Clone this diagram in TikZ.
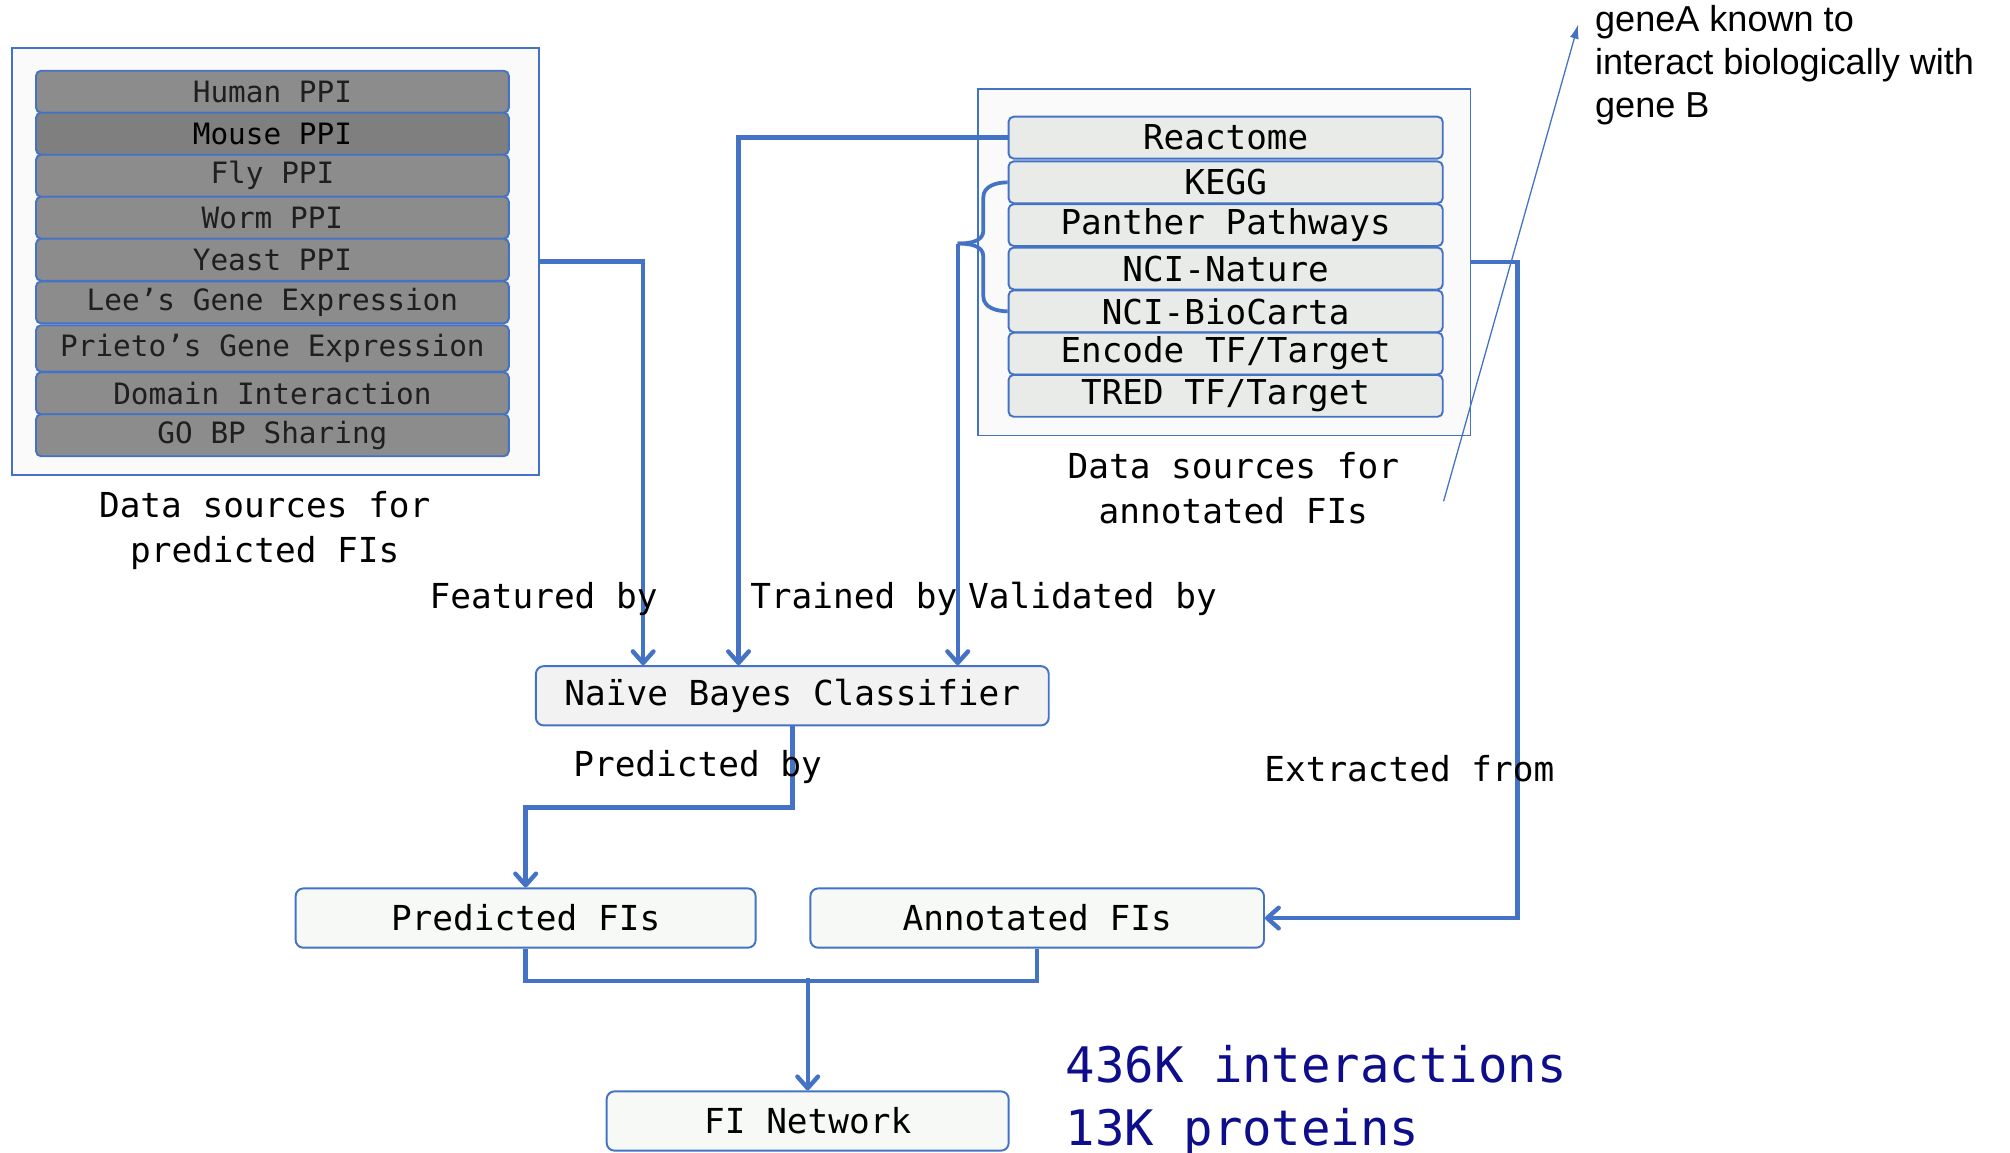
\documentclass[tikz,border=0pt]{standalone}
\usepackage{fontspec}
\setmainfont{Liberation Sans}
\setmonofont{DejaVu Sans Mono}
\usetikzlibrary{arrows.meta,calc}
\definecolor{bl}{HTML}{4472C4}
\definecolor{rowgray}{HTML}{8C8C8C}
\definecolor{rowdark}{HTML}{7F7F7F}
\definecolor{rowlight}{HTML}{E9EBE8}
\definecolor{outerfill}{HTML}{FAFAFA}
\definecolor{nbfill}{HTML}{F2F2F2}
\definecolor{fifill}{HTML}{F7F9F6}
\definecolor{bignum}{RGB}{14,14,140}
\tikzset{
  outerbox/.style={draw=bl, line width=1.5pt, fill=outerfill, inner sep=0pt},
  lrow/.style={draw=bl, line width=1.5pt, rounded corners=4pt, fill=rowgray, minimum width=367pt,
    minimum height=32.6pt, inner sep=0pt, text=black!88, font=\ttfamily\fontsize{22.8}{26}\selectfont},
  rrow/.style={draw=bl, line width=1.5pt, rounded corners=4pt, fill=rowlight, minimum width=337pt,
    minimum height=32.5pt, inner sep=0pt, font=\ttfamily\fontsize{26.6}{30}\selectfont},
  flowbox/.style={draw=bl, line width=1.5pt, rounded corners=6pt, minimum height=46pt, inner sep=0pt,
    font=\ttfamily\fontsize{26.7}{30}\selectfont},
  conn/.style={draw=bl, line width=3.4pt},
  bracestyle/.style={draw=bl, line width=2.9pt},
  arr/.style={-{Straight Barb[length=9pt,width=16pt,round]}},
  lbl/.style={font=\ttfamily\fontsize{26.7}{35}\selectfont, inner sep=0pt},
}
\begin{document}
\begin{tikzpicture}[x=0.995pt,y=-1pt]
\useasboundingbox[fill=white] (0,0) rectangle (1567.8,894.8);

% left group
\node[outerbox, minimum width=408.5pt, minimum height=332pt] (leftbox) at (215,203) {};
\node[lrow] (human) at (212.5,71.2) {Human PPI};
\node[lrow, fill=rowdark, text=black] (mouse) at (212.5,103.8) {Mouse PPI};
\node[lrow] (fly) at (212.5,136.4) {Fly PPI};
\node[lrow] (worm) at (212.5,169) {Worm PPI};
\node[lrow] (yeast) at (212.5,201.6) {Yeast PPI};
\node[lrow] (lee) at (212.5,234.7) {Lee’s Gene Expression};
\node[lrow, minimum height=36pt] (prieto) at (212.5,270.4) {Prieto’s Gene Expression};
\node[lrow] (domain) at (212.5,305.2) {Domain Interaction};
\node[lrow] (gobp) at (212.5,337.8) {GO BP Sharing};
\node[lbl, align=center] (leftlbl) at (206.5,412) {Data sources for\\predicted FIs};

% right group
\node[outerbox, minimum width=382pt, minimum height=269pt] (rightbox) at (955,203.5) {};
\node[rrow] (reactome) at (956,106.8) {Reactome};
\node[rrow] (kegg) at (956,141.5) {KEGG};
\node[rrow] (panther) at (956,174.7) {Panther Pathways};
\node[rrow] (ncinature) at (956,208.4) {NCI-Nature};
\node[rrow] (biocarta) at (956,241.6) {NCI-BioCarta};
\node[rrow] (encode) at (956,274.4) {Encode TF/Target};
\node[rrow] (tred) at (956,307.2) {TRED TF/Target};
\node[lbl, align=center] (rightlbl) at (962,378.6) {Data sources for\\annotated FIs};

% flow boxes
\node[flowbox, fill=nbfill, minimum width=398pt] (nb) at (618,540) {Naïve Bayes Classifier};
\node[flowbox, fill=fifill, minimum width=357pt] (pfi) at (410,712.5) {Predicted FIs};
\node[flowbox, fill=fifill, minimum width=352pt] (afi) at (809,712.5) {Annotated FIs};
\node[flowbox, fill=fifill, minimum width=312pt] (fin) at (630,870) {FI Network};

% connectors
\draw[conn, arr] (leftbox.east) -| ([xshift=84pt]nb.north west);
\draw[conn, arr] (reactome.west) -| ([xshift=158pt]nb.north west);
\coordinate (btip) at (747,189);
\draw[bracestyle] (kegg.west) to[out=180,in=90] (767,153) -- (767,179) to[out=-90,in=0] (btip);
\draw[bracestyle] (btip) to[out=0,in=90] (767,199) -- (767,230) to[out=-90,in=180] (biocarta.west);
\draw[conn, arr] (btip) -- (btip |- nb.north);
\draw[conn, arr] (rightbox.east) -| ($(afi.east)+(197,0)$) -- (afi.east);
\draw[conn, arr] (nb.south) -- ++(0,63) -| (pfi.north);
\draw[conn] (pfi.south) -- ++(0,25) -| (afi.south);
\draw[conn, arr] ($(fin.north)+(0,-87)$) -- (fin.north);

% edge labels
\node[lbl, anchor=base west] (lfeat) at (335,472) {Featured by};
\node[lbl, anchor=base west] (ltrain) at (585,472) {Trained by};
\node[lbl, anchor=base west] (lvalid) at (755,472) {Validated by};
\node[lbl, anchor=base west] (lpred) at (447,602.4) {Predicted by};
\node[lbl, anchor=base west] (lextr) at (986,606.5) {Extracted from};

% big numbers
\node[anchor=west, align=left, inner sep=0pt, text=bignum, font=\ttfamily\fontsize{38}{48.3}\selectfont] (stats) at (831,854) {436K interactions\\13K proteins};

% annotation
\node[anchor=west, align=left, inner sep=0pt, font=\fontsize{28}{33.4}\selectfont] (note) at (1244,50.5) {geneA known to\\interact biologically with\\gene B};
\coordinate (ns) at (1126,389);
\coordinate (ne) at (1231,19);
\draw[bl, line width=1pt, -{Latex[length=11pt,width=7pt]}] (ns) -- (ne);
\end{tikzpicture}
\end{document}
